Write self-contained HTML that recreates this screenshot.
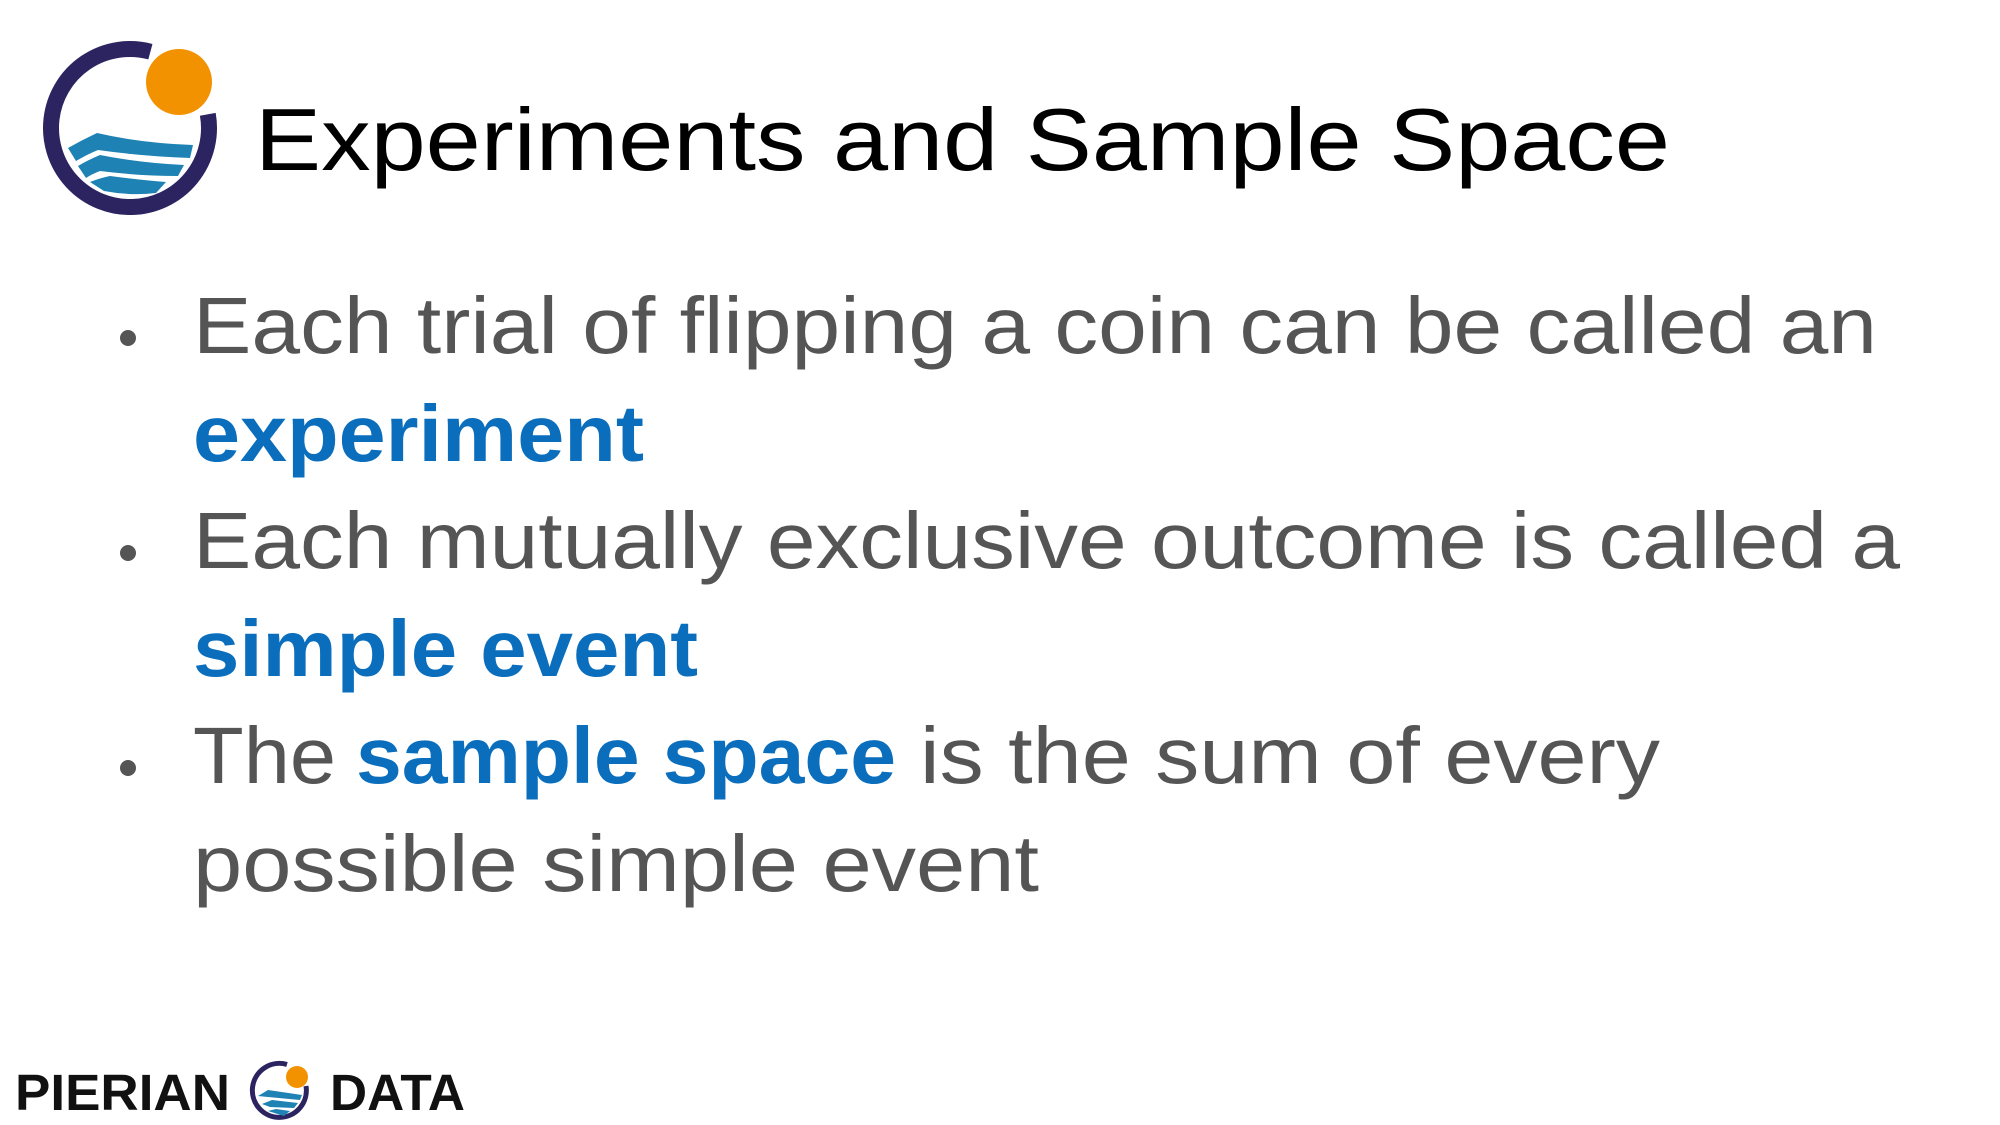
<!DOCTYPE html>
<html><head><meta charset="utf-8"><style>
html,body{margin:0;padding:0;background:#fff;}
svg{display:block;}
text{font-family:"Liberation Sans",sans-serif;}
</style></head><body>
<svg width="2000" height="1125" viewBox="0 0 2000 1125">
<g>
  <path d="M150.4,51.7 A79,79 0 1 0 207.8,114.3" fill="none" stroke="#2b2461" stroke-width="16"/>
  <circle cx="179" cy="82" r="33" fill="#f39200"/>
  <path d="M68,148 Q82,140 97,133 Q140,143 193,145 L190,158 Q140,156 98,150 Q88,154 76,161 Z" fill="#1e82b4"/>
  <path d="M78,166 Q88,160 100,155 Q140,163 184,165 L178,176 Q140,176 100,171 Q92,174 86,178 Z" fill="#1e82b4"/>
  <path d="M90,182 Q100,178 110,176 Q140,180 166,182 L156,193 Q130,196 104,191 Z" fill="#1e82b4"/>
</g>
<text x="255" y="170" font-size="88" fill="#000" textLength="1415" lengthAdjust="spacingAndGlyphs">Experiments and Sample Space</text>
<g fill="#555" font-size="80">
  <circle cx="128" cy="338" r="8" fill="#555"/>
  <circle cx="128" cy="553" r="8" fill="#555"/>
  <circle cx="128" cy="768" r="8" fill="#555"/>
  <text x="193" y="353" textLength="1684" lengthAdjust="spacingAndGlyphs">Each trial of flipping a coin can be called an</text>
  <text x="193" y="461" fill="#0a6ebd" font-weight="bold" textLength="451" lengthAdjust="spacingAndGlyphs">experiment</text>
  <text x="193" y="568" textLength="1707" lengthAdjust="spacingAndGlyphs">Each mutually exclusive outcome is called a</text>
  <text x="193" y="676" fill="#0a6ebd" font-weight="bold" textLength="505" lengthAdjust="spacingAndGlyphs">simple event</text>
  <text x="193" y="783" textLength="143" lengthAdjust="spacingAndGlyphs">The</text>
  <text x="356" y="783" fill="#0a6ebd" font-weight="bold" textLength="540" lengthAdjust="spacingAndGlyphs">sample space</text>
  <text x="920" y="783" textLength="740" lengthAdjust="spacingAndGlyphs">is the sum of every</text>
  <text x="193" y="891" textLength="846" lengthAdjust="spacingAndGlyphs">possible simple event</text>
</g>
<g>
  <text x="15" y="1110" font-size="51" font-weight="bold" fill="#111" textLength="215" lengthAdjust="spacingAndGlyphs">PIERIAN</text>
  <path d="M287,1064.5 A27,27 0 1 0 306,1086" fill="none" stroke="#2b2461" stroke-width="5"/>
  <circle cx="297" cy="1077" r="11" fill="#f39200"/>
  <path d="M258,1096 L268,1090 L302,1095 L300,1100 L268,1097 Z" fill="#1e82b4"/>
  <path d="M262,1104 L272,1100 L298,1103 L294,1108 L270,1107 Z" fill="#1e82b4"/>
  <path d="M268,1111 L276,1109 L290,1111 L284,1116 Z" fill="#1e82b4"/>
  <text x="330" y="1110" font-size="51" font-weight="bold" fill="#111" textLength="135" lengthAdjust="spacingAndGlyphs">DATA</text>
</g>
</svg>
</body></html>
